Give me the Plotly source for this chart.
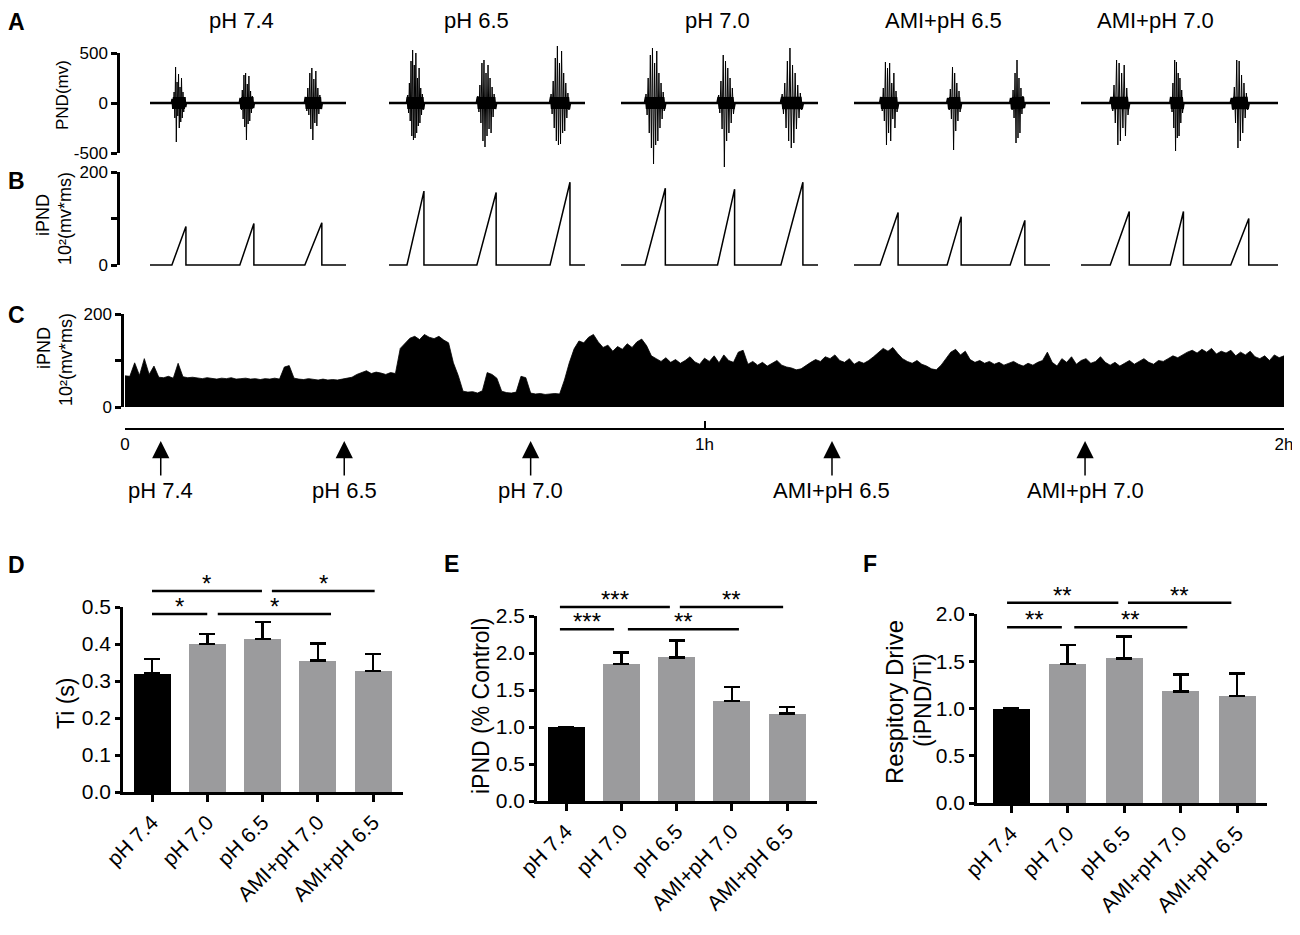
import numpy as np
import plotly.graph_objects as go

W, H = 1300, 935          # reference picture size
OFF = 8                   # page margin around the plot div
FW, FH = W - OFF, H - OFF
FONT = "Arial, 'Liberation Sans', Helvetica, sans-serif"

# ------------------------------
# A / B : raw (PND) and integrated (iPND) phrenic activity, one 6 s window per condition
conditions = ["pH 7.4", "pH 6.5", "pH 7.0", "AMI+pH 6.5", "AMI+pH 7.0"]
window_s = 6.0
burst_on = [[0.67, 2.75, 4.74], [0.55, 2.69, 4.93], [0.73, 2.94, 4.87],
            [0.80, 2.85, 4.78], [0.89, 2.72, 4.56]]
burst_off = [[1.10, 3.18, 5.26], [1.07, 3.28, 5.54], [1.35, 3.46, 5.54],
             [1.35, 3.28, 5.23], [1.47, 3.12, 5.11]]
ipnd_peak = [[83, 89, 91], [159, 156, 178], [165, 163, 178],
             [113, 104, 96], [115, 115, 100]]

# spike amplitudes (mv) inside each burst
pnd_ph74 = [[40, -60, 110, -150, 360, -390, 210, -130, 290, -250, 160, -190, 250, -150, 110, -90, 60, -40],
            [50, -70, 130, -160, 280, -240, 300, -370, 190, -210, 270, -180, 120, -100, 70, -50],
            [60, -80, 150, -120, 300, -260, 350, -370, 240, -200, 320, -230, 150, -110, 80, -60]]
pnd_ph65 = [[80, -100, 200, -180, 420, -330, 530, -370, 380, -350, 500, -300, 250, -230, 350, -200, 150, -120, 90, -70],
            [70, -90, 180, -200, 400, -380, 430, -440, 300, -330, 380, -260, 250, -300, 160, -140, 90, -60],
            [90, -110, 220, -250, 450, -380, 570, -420, 400, -410, 520, -300, 300, -280, 200, -150, 100, -70]]
pnd_ph70 = [[90, -120, 250, -300, 480, -450, 550, -610, 400, -420, 520, -380, 300, -250, 200, -160, 110, -80],
            [80, -100, 220, -260, 480, -640, 420, -380, 350, -300, 250, -200, 150, -110],
            [90, -110, 200, -250, 420, -380, 550, -450, 380, -400, 300, -260, 180, -150, 100, -70]]
pnd_ami65 = [[60, -80, 150, -180, 410, -420, 350, -300, 400, -380, 200, -160, 300, -250, 120, -90],
             [50, -70, 140, -160, 360, -470, 300, -280, 200, -180, 120, -90],
             [50, -70, 130, -150, 300, -400, 430, -350, 250, -300, 150, -110, 70, -50]]
pnd_ami70 = [[60, -80, 180, -200, 430, -420, 400, -380, 300, -250, 380, -330, 150, -120],
             [60, -90, 200, -250, 430, -480, 410, -350, 300, -330, 250, -200, 130, -100],
             [50, -70, 160, -200, 430, -450, 420, -380, 280, -300, 200, -150, 100, -70]]
pnd_spikes = [pnd_ph74, pnd_ph65, pnd_ph70, pnd_ami65, pnd_ami70]

# ------------------------------
# C : iPND over the 2 h protocol, one value per 0.5 min
trend_step_min = 0.5
ipnd_trend = [
    67, 66, 95, 68, 104, 70, 88, 64, 63, 66, 62, 94, 65, 63, 64, 62, 61, 63, 62, 60,
    62, 61, 63, 60, 61, 62, 60, 61, 59, 61, 60, 62, 60, 86, 89, 62, 60, 59, 61, 59,
    58, 60, 58, 59, 58, 60, 62, 64, 70, 74, 78, 72, 75, 73, 70, 74, 72, 126, 138, 148,
    152, 145, 156, 150, 147, 152, 144, 138, 95, 68, 34, 32, 33, 30, 35, 74, 70, 62, 34, 31,
    30, 32, 66, 63, 30, 28, 29, 27, 28, 29, 28, 58, 95, 125, 142, 138, 150, 156, 140, 128,
    133, 120, 130, 124, 136, 128, 140, 146, 132, 110, 104, 98, 106, 96, 102, 94, 100, 108, 97, 92,
    105, 98, 110, 95, 112, 100, 96, 118, 122, 92, 98, 90, 96, 88, 94, 100, 90, 86, 84, 80,
    82, 90, 96, 102, 98, 108, 104, 112, 100, 96, 104, 92, 98, 94, 100, 108, 118, 126, 120, 128,
    115, 104, 98, 94, 100, 92, 88, 82, 80, 90, 104, 118, 124, 112, 120, 102, 96, 100, 94, 98,
    92, 96, 90, 94, 98, 92, 88, 94, 90, 96, 100, 118, 96, 88, 104, 96, 108, 92, 100, 104,
    94, 98, 108, 96, 90, 96, 88, 94, 100, 92, 98, 104, 96, 92, 100, 98, 104, 110, 106, 112,
    118, 122, 116, 124, 118, 126, 114, 120, 116, 122, 110, 118, 112, 120, 108, 104, 110, 100, 112, 106,
    110]
events = ["pH 7.4", "pH 6.5", "pH 7.0", "AMI+pH 6.5", "AMI+pH 7.0"]
event_min = [3.7, 22.7, 42.0, 73.2, 99.4]

# ------------------------------
# D / E / F : group means +/- SEM
groups = ["pH 7.4", "pH 7.0", "pH 6.5", "AMI+pH 7.0", "AMI+pH 6.5"]
bar_colors = ["#000000", "#9b9b9d", "#9b9b9d", "#9b9b9d", "#9b9b9d"]
ti_mean = [0.32, 0.40, 0.414, 0.355, 0.327]
ti_sem = [0.04, 0.027, 0.045, 0.046, 0.046]
ipnd_mean = [1.0, 1.85, 1.94, 1.35, 1.18]
ipnd_sem = [0.0, 0.16, 0.23, 0.19, 0.09]
drive_mean = [1.0, 1.47, 1.53, 1.18, 1.13]
drive_sem = [0.0, 0.20, 0.23, 0.18, 0.24]
# significance bars: (from, to, level, stars)
ti_sig = [(0.0, 1.99, 0.543, "*"), (2.17, 4.03, 0.543, "*"),
          (0.0, 1.0, 0.481, "*"), (1.19, 3.24, 0.481, "*")]
ipnd_sig = [(-0.11, 1.88, 2.62, "***"), (2.06, 3.93, 2.62, "**"),
            (-0.11, 0.87, 2.32, "***"), (1.12, 3.13, 2.32, "**")]
drive_sig = [(-0.07, 1.9, 2.12, "**"), (2.07, 3.9, 2.12, "**"),
             (-0.07, 0.9, 1.86, "**"), (1.12, 3.12, 1.86, "**")]


def fx(px):
    return (px - OFF) / FW


def fy(py):
    return 1 - (py - OFF) / FH


def axis_span(px_top, px_bot, v_top, v_bot, pad_top=0.0, pad_bot=0.0):
    k = (v_top - v_bot) / (px_bot - px_top)
    dom = [fy(px_bot + pad_bot), fy(px_top - pad_top)]
    rng = [v_bot - pad_bot * k, v_top + pad_top * k]
    return dom, rng


def anchor_trace(xa, ya):
    return go.Scatter(x=[None], y=[None], xaxis=xa, yaxis=ya, showlegend=False, hoverinfo="skip")


fig = go.Figure()
axes = {}
annos = []

disp = dict(showline=True, linewidth=2.5, linecolor="black", ticks="outside", ticklen=6,
            tickwidth=2.5, tickcolor="black", showgrid=False, zeroline=False, automargin=False,
            tickfont=dict(size=17, color="black", family=FONT))

# ------------------------------ A / B
seg_px = [(150, 346), (389, 585), (621, 818), (854, 1050), (1081, 1278)]
title_px = [241, 477, 717, 943, 1155]

for k, (a, b) in enumerate(seg_px):
    xa = "x" if k == 0 else "x%d" % (k + 1)
    axes["xaxis" if k == 0 else "xaxis%d" % (k + 1)] = dict(
        domain=[fx(a), fx(b)], range=[0, window_s], visible=False, anchor="y", automargin=False)

    px, py = [0.0], [0.0]
    rx, ry = [0.0], [0.0]
    for on, off, spikes, peak in zip(burst_on[k], burst_off[k], pnd_spikes[k], ipnd_peak[k]):
        px += [on] + list(np.linspace(on, off, len(spikes) + 2)[1:-1]) + [off]
        py += [0.0] + spikes + [0.0]
        rx += [on, off, off]
        ry += [0.0, peak, 0.0]
    px.append(window_s); py.append(0.0)
    rx.append(window_s); ry.append(0.0)
    py = np.array(py)

    fig.add_trace(go.Scatter(x=px, y=py, xaxis=xa, yaxis="y", mode="lines",
                             line=dict(color="black", width=1), showlegend=False))
    # dense burst core + thick baseline
    fig.add_trace(go.Scatter(x=px, y=np.clip(py, -60, 60), xaxis=xa, yaxis="y", mode="lines",
                             line=dict(color="black", width=2.6), showlegend=False))
    fig.add_trace(go.Scatter(x=rx, y=ry, xaxis=xa, yaxis="y2", mode="lines",
                             line=dict(color="black", width=1.5), showlegend=False))

    annos.append(dict(x=fx(title_px[k]), y=fy(21), xref="paper", yref="paper",
                      xanchor="center", yanchor="middle",
                      text=conditions[k], showarrow=False, font=dict(size=22)))

domA, rngA = axis_span(53, 153, 500, -500, 25, 25)
axes["yaxis"] = dict(domain=domA, range=rngA, visible=False, anchor="x", automargin=False)
domB, rngB = axis_span(172, 265, 200, 0, 12, 7)
axes["yaxis2"] = dict(domain=domB, range=rngB, visible=False, anchor="x", automargin=False)
axes["yaxis3"] = dict(domain=axis_span(53, 153, 500, -500)[0], range=[-500, 500], anchor="free",
                      position=fx(118), tickvals=[-500, 0, 500], ticktext=["-500", "0", "500"], **disp)
axes["yaxis4"] = dict(domain=axis_span(172, 265, 200, 0)[0], range=[0, 200], anchor="free",
                      position=fx(118), tickvals=[0, 100, 200], ticktext=["0", "", "200"], **disp)
fig.add_trace(anchor_trace("x", "y3"))
fig.add_trace(anchor_trace("x", "y4"))

# ------------------------------ C
t_min = np.arange(len(ipnd_trend)) * trend_step_min
fig.add_trace(go.Scatter(x=t_min, y=ipnd_trend, xaxis="x6", yaxis="y5", mode="lines",
                         line=dict(color="black", width=0.8), fill="tozeroy",
                         fillcolor="black", showlegend=False))
axes["xaxis6"] = dict(domain=[fx(125), fx(1284)], range=[0, 120], anchor="y7", showline=True,
                      linewidth=1.5, linecolor="black", ticks="inside", ticklen=7, tickwidth=1.5,
                      tickcolor="black", tickvals=[0, 60, 120], ticktext=["0", "1h", "2h"],
                      tickfont=dict(size=17, color="black", family=FONT),
                      showgrid=False, zeroline=False, automargin=False)
domC, rngC = axis_span(314, 407, 200, 0, 30, 4)
axes["yaxis5"] = dict(domain=domC, range=rngC, visible=False, anchor="x6", automargin=False)
axes["yaxis6"] = dict(domain=axis_span(314, 407, 200, 0)[0], range=[0, 200], anchor="free",
                      position=fx(122), tickvals=[0, 100, 200], ticktext=["0", "", "200"], **disp)
axes["yaxis7"] = dict(domain=axis_span(400, 428, 1, 0)[0], range=[0, 1], visible=False,
                      anchor="x6", automargin=False)
fig.add_trace(anchor_trace("x6", "y6"))
fig.add_trace(anchor_trace("x6", "y7"))

for name, t in zip(events, event_min):
    annos.append(dict(x=t, xref="x6", y=fy(441), yref="paper", text="", showarrow=True,
                      ax=0, ay=36, axref="pixel", ayref="pixel", arrowhead=2, arrowsize=2.3,
                      arrowwidth=1.5, arrowcolor="black"))
    annos.append(dict(x=t, xref="x6", y=fy(490), yref="paper", text=name,
                      xanchor="center", yanchor="middle",
                      showarrow=False, font=dict(size=22)))

# ------------------------------ D / E / F
bar_panels = [
    dict(n=7, xpx=(123, 403), c0=152, sp=55.25, ypx=(607, 792), vtop=0.5,
         ticks=[0.0, 0.1, 0.2, 0.3, 0.4, 0.5], mean=ti_mean, sem=ti_sem, sig=ti_sig),
    dict(n=8, xpx=(537, 817), c0=566, sp=55.25, ypx=(616, 801), vtop=2.5,
         ticks=[0.0, 0.5, 1.0, 1.5, 2.0, 2.5], mean=ipnd_mean, sem=ipnd_sem, sig=ipnd_sig),
    dict(n=9, xpx=(977, 1267), c0=1011, sp=56.5, ypx=(614, 803), vtop=2.0,
         ticks=[0.0, 0.5, 1.0, 1.5, 2.0], mean=drive_mean, sem=drive_sem, sig=drive_sig),
]
yi = 8
for p in bar_panels:
    xa = "x%d" % p["n"]
    yd, yv = "y%d" % yi, "y%d" % (yi + 1)
    x0px, x1px = p["xpx"]
    top_px, bot_px = p["ypx"]
    pos = list(range(len(groups)))

    fig.add_trace(go.Bar(x=pos, y=p["mean"], xaxis=xa, yaxis=yd, width=37 / p["sp"],
                         marker=dict(color=bar_colors, line=dict(width=0)),
                         error_y=dict(type="data", symmetric=False, array=p["sem"],
                                      arrayminus=[0] * len(groups), color="black",
                                      thickness=2.5, width=8),
                         showlegend=False))
    for a, b, lvl, stars in p["sig"]:
        fig.add_trace(go.Scatter(x=[a, b], y=[lvl, lvl], xaxis=xa, yaxis=yd, mode="lines",
                                 line=dict(color="black", width=2.5), showlegend=False))
        annos.append(dict(x=(a + b) / 2, y=lvl, xref=xa, yref=yd, text=stars, showarrow=False,
                          xanchor="center", yanchor="bottom", yshift=-8, font=dict(size=24)))
    fig.add_trace(anchor_trace(xa, yv))

    axes["xaxis%d" % p["n"]] = dict(
        domain=[fx(x0px), fx(x1px)],
        range=[(x0px - p["c0"]) / p["sp"], (x1px - p["c0"]) / p["sp"]],
        anchor=yv, showline=True, linewidth=2.5, linecolor="black", ticks="outside",
        ticklen=7, tickwidth=2.5, tickcolor="black", tickvals=pos, ticktext=groups,
        tickangle=-45, tickfont=dict(size=21, color="black", family=FONT),
        showgrid=False, zeroline=False, automargin=False)
    dd, rr = axis_span(top_px, bot_px, p["vtop"], 0, 45, 0)
    axes["yaxis%d" % yi] = dict(domain=dd, range=rr, visible=False, anchor=xa, automargin=False)
    yv_style = dict(disp)
    yv_style["tickfont"] = dict(size=21, color="black", family=FONT)
    yv_style["ticklen"] = 5
    axes["yaxis%d" % (yi + 1)] = dict(domain=axis_span(top_px, bot_px, p["vtop"], 0)[0],
                                      range=[0, p["vtop"]], anchor=xa, tickvals=p["ticks"],
                                      tickformat=".1f", **yv_style)
    yi += 2

# ------------------------------ labels
def paper_text(x, y, text, size, angle=0, bold=False):
    t = "<b>%s</b>" % text if bold else text
    return dict(x=fx(x), y=fy(y), xref="paper", yref="paper", text=t, showarrow=False,
                xanchor="center", yanchor="middle", textangle=angle, font=dict(size=size))

for letter, lx, ly in [("A", 16, 22), ("B", 16, 181), ("C", 16, 315),
                       ("D", 16, 565), ("E", 451, 564), ("F", 870, 564)]:
    annos.append(paper_text(lx, ly, letter, 23, bold=True))

annos.append(paper_text(62, 95, "PND(mv)", 17, -90))
annos.append(paper_text(43, 215, "iPND", 18, -90))
annos.append(paper_text(65, 219, "10²(mv*ms)", 18, -90))
annos.append(paper_text(44, 348, "iPND", 18, -90))
annos.append(paper_text(66, 360, "10²(mv*ms)", 18, -90))
annos.append(paper_text(66, 703, "Ti (s)", 23, -90))
annos.append(paper_text(481, 706, "iPND (% Control)", 23, -90))
annos.append(paper_text(894, 702, "Respitory Drive", 24, -90))
annos.append(paper_text(923, 700, "(iPND/Ti)", 23, -90))

fig.update_layout(
    width=FW, height=FH, margin=dict(l=0, r=0, t=0, b=0, autoexpand=False),
    paper_bgcolor="white", plot_bgcolor="rgba(0,0,0,0)",
    font=dict(family=FONT, color="black"),
    showlegend=False, bargap=0, annotations=annos, **axes)

fig.write_html("out.html")
